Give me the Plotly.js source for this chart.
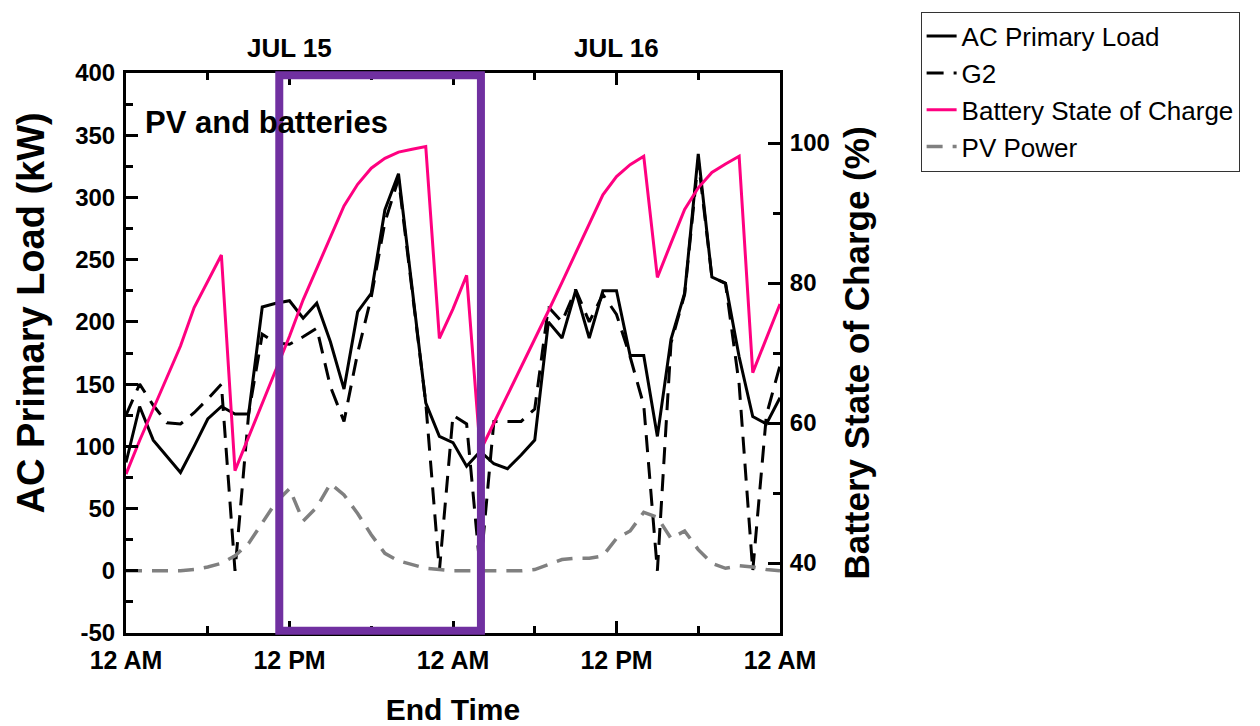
<!DOCTYPE html>
<html>
<head>
<meta charset="utf-8">
<script src="https://cdn.plot.ly/plotly-3.0.1.min.js"></script>
<style>html,body{margin:0;padding:0;background:#fff;}#chart{width:1260px;height:726px;}</style>
</head>
<body>
<div id="chart"></div>
<script>
// Hours since 12 AM, JUL 15
const hours = [0,1,2,3,4,5,6,7,8,9,10,11,12,13,14,15,16,17,18,19,20,21,22,23,24,25,26,27,28,29,30,31,32,33,34,35,36,37,38,39,40,41,42,43,44,45,46,47,48];
const acPrimaryLoad = [87,132,105,92,79,100,122,132,126,126,212,215,217,203,215,184,146,208,223,290,319,227,135,108,103,84,96,86,82,93,105,200,187,225,187,225,225,173,173,108,186,223,335,236,231,172,124,118,139];
const g2 = [125,150,133,119,118,127,138,150,0,126,190,183,182,188,195,148,120,175,220,280,315,227,135,0,125,118,0,120,120,120,130,212,200,226,200,222,206,172,133,0,183,222,330,236,231,150,0,125,165];
const batterySOC = [52.7,57.5,62,66.5,71,76.5,80.3,84,53.2,58,62.8,67.6,72.4,77.6,82.1,86.5,91,94.1,96.4,97.8,98.7,99.1,99.5,72.1,76.3,81.1,56,60,64,68,71.8,76,80.1,84.3,88.4,92.6,95.2,96.9,98.1,80.8,85.7,90.5,93.6,95.8,97,98.1,67.2,72,77];
const pvPower = [0,0,0,0,0,1,3,6,12,22,38,55,66,40,51,70,61,46,29,14,8,5,2,1,0,0,0,0,0,0,1,5,9,10,10,12,26,32,47,43,26,32,17,6,2,4,3,1,0];

const xTickVals = [0,12,24,36,48];
const xTickText = ["12 AM","12 PM","12 AM","12 PM","12 AM"];
const yTickVals = [-50,0,50,100,150,200,250,300,350,400];
const yTickText = ["-50","0","50","100","150","200","250","300","350","400"];
const y2TickVals = [40,60,80,100];
const y2TickText = ["40","60","80","100"];
const dayLabels = ["JUL 15","JUL 16"];
const dayLabelPos = [12,36];
const highlightWindow = [11.25,26.05];

const SANS = "Liberation Sans, Arial, sans-serif";

const traces = [
  {x: hours, y: acPrimaryLoad, name: 'AC Primary Load', type: 'scatter', mode: 'lines',
   line: {color: '#000000', width: 3}},
  {x: hours, y: g2, name: 'G2', type: 'scatter', mode: 'lines',
   line: {color: '#000000', width: 3, dash: '17px,10px'}},
  {x: hours, y: batterySOC, name: 'Battery State of Charge', type: 'scatter', mode: 'lines', yaxis: 'y2',
   line: {color: '#FF0080', width: 3}},
  {x: hours, y: pvPower, name: 'PV Power', type: 'scatter', mode: 'lines',
   line: {color: '#808080', width: 3.5, dash: '16px,10px'}}
];

const tickFont = {family: SANS, size: 24, color: '#000', weight: 'bold'};

const layout = {
  width: 1260, height: 726, autosize: false,
  paper_bgcolor: '#fff', plot_bgcolor: '#fff',
  margin: {l: 126, r: 480, t: 67, b: 93, pad: 0},
  showlegend: true,
  legend: {x: 1.215, y: 1.1095, xanchor: 'left', yanchor: 'top',
    font: {family: SANS, size: 26, color: '#000'},
    bordercolor: '#333', borderwidth: 1, bgcolor: '#fff', tracegroupgap: 0},
  xaxis: {range: [0,48], tickmode: 'array', tickvals: xTickVals, ticktext: xTickText,
    ticks: 'inside', ticklen: 12, tickwidth: 3, tickcolor: '#000', ticklabelstandoff: 3,
    showline: true, linecolor: '#000', linewidth: 3, mirror: 'ticks',
    showgrid: false, zeroline: false, tickfont: {family: SANS, size: 25, color: '#000', weight: 'bold'},
    minor: {tickmode: 'linear', tick0: 0, dtick: 6, ticks: 'inside', ticklen: 7, tickwidth: 3, tickcolor: '#000', showgrid: false},
    title: {text: 'End Time', font: {family: SANS, size: 30, color: '#000', weight: 'bold'}, standoff: 28}},
  yaxis: {range: [-50,400], tickmode: 'array', tickvals: yTickVals, ticktext: yTickText,
    ticks: 'inside', ticklen: 12, tickwidth: 3, tickcolor: '#000', ticklabelstandoff: 3,
    showline: true, linecolor: '#000', linewidth: 3, mirror: false,
    showgrid: false, zeroline: false, tickfont: tickFont,
    minor: {tickmode: 'linear', tick0: 0, dtick: 25, ticks: 'inside', ticklen: 7, tickwidth: 3, tickcolor: '#000', showgrid: false}},
  yaxis2: {range: [30,110], overlaying: 'y', side: 'right', tickmode: 'array', tickvals: y2TickVals, ticktext: y2TickText,
    ticks: 'inside', ticklen: 12, tickwidth: 3, tickcolor: '#000', ticklabelstandoff: 2,
    showline: true, linecolor: '#000', linewidth: 3,
    showgrid: false, zeroline: false, tickfont: tickFont,
    minor: {tickmode: 'linear', tick0: 0, dtick: 10, ticks: 'inside', ticklen: 7, tickwidth: 3, tickcolor: '#000', showgrid: false},
    title: {text: 'Battery State of Charge (%)', font: {family: SANS, size: 35, color: '#000', weight: 'bold'}, standoff: 16}},
  shapes: [
    {type: 'rect', xref: 'x', yref: 'paper', x0: highlightWindow[0], x1: highlightWindow[1], y0: 0.004, y1: 0.996,
     line: {color: '#7030A0', width: 8}, fillcolor: 'rgba(0,0,0,0)', layer: 'above'}
  ],
  annotations: [
    {text: 'AC Primary Load (kW)', xref: 'paper', yref: 'paper', x: -0.145, y: 0.571, textangle: -90,
     showarrow: false, xanchor: 'center', yanchor: 'middle',
     font: {family: SANS, size: 38, color: '#000', weight: 'bold'}},
    {text: 'PV and batteries', xref: 'paper', yref: 'paper', x: 0.026, y: 0.912, showarrow: false,
     xanchor: 'left', yanchor: 'middle', font: {family: SANS, size: 31, color: '#000', weight: 'bold'}},
    {text: dayLabels[0], xref: 'x', yref: 'paper', x: dayLabelPos[0], y: 1.045, showarrow: false,
     xanchor: 'center', yanchor: 'middle', font: {family: SANS, size: 26, color: '#000', weight: 'bold'}},
    {text: dayLabels[1], xref: 'x', yref: 'paper', x: dayLabelPos[1], y: 1.045, showarrow: false,
     xanchor: 'center', yanchor: 'middle', font: {family: SANS, size: 26, color: '#000', weight: 'bold'}}
  ]
};

Plotly.newPlot('chart', traces, layout, {displayModeBar: false, responsive: false});
</script>
</body>
</html>
